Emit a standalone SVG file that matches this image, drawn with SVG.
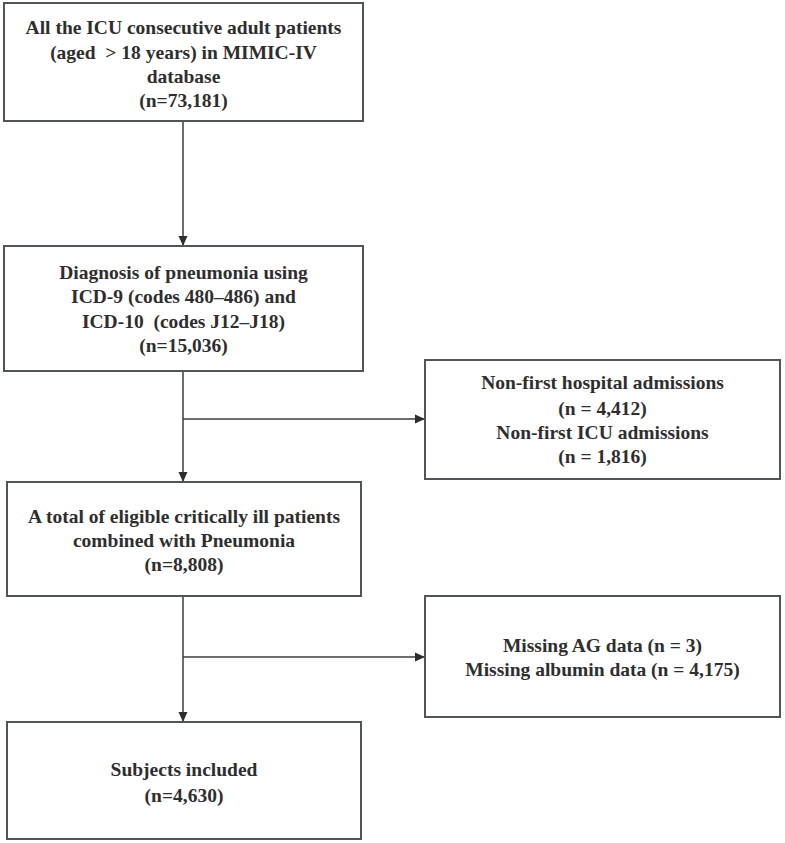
<svg xmlns="http://www.w3.org/2000/svg" width="785" height="843" viewBox="0 0 785 843">
  <style>
    .box { fill: #ffffff; stroke: #50555a; stroke-width: 2; }
    .t { font-family: "Liberation Serif", "Times New Roman", serif; font-weight: bold; font-size: 19.5px; fill: #2e2e2e; text-anchor: middle; white-space: pre; }
    .c { stroke: #3c3c3c; stroke-width: 1.5; fill: none; }
  </style>
  <defs>
    <marker id="ah" viewBox="0 0 10 10" refX="10" refY="5" markerWidth="10" markerHeight="10" markerUnits="userSpaceOnUse" orient="auto">
      <path d="M0,0.5 L10,5 L0,9.5 Z" fill="#2e2e2e"/>
    </marker>
  </defs>
  <rect width="785" height="843" fill="#ffffff"/>

  <g id="connectors">
    <line class="c" x1="183" y1="121" x2="183" y2="246" marker-end="url(#ah)"/>
    <line class="c" x1="183" y1="371" x2="183" y2="482" marker-end="url(#ah)"/>
    <line class="c" x1="183" y1="596" x2="183" y2="722" marker-end="url(#ah)"/>
    <line class="c" x1="183" y1="419" x2="425" y2="419" marker-end="url(#ah)"/>
    <line class="c" x1="183" y1="657" x2="425" y2="657" marker-end="url(#ah)"/>
  </g>

  <g id="node-all-icu">
    <rect class="box" x="4" y="3" width="359" height="118"/>
    <text class="t" x="183.5" y="34" xml:space="preserve">All the ICU consecutive adult patients</text>
    <text class="t" x="183.5" y="59" xml:space="preserve">(aged  &gt; 18 years) in MIMIC-IV</text>
    <text class="t" x="183.5" y="83">database</text>
    <text class="t" x="183.5" y="107">(n=73,181)</text>
  </g>

  <g id="node-pneumonia">
    <rect class="box" x="4" y="246" width="359" height="125"/>
    <text class="t" x="183.5" y="279">Diagnosis of pneumonia using</text>
    <text class="t" x="183.5" y="303">ICD-9 (codes 480–486) and</text>
    <text class="t" x="183.5" y="328" xml:space="preserve">ICD-10  (codes J12–J18)</text>
    <text class="t" x="183.5" y="352">(n=15,036)</text>
  </g>

  <g id="node-excl-admissions">
    <rect class="box" x="425" y="360" width="355" height="119"/>
    <text class="t" x="602.5" y="389">Non-first hospital admissions</text>
    <text class="t" x="602.5" y="415">(n = 4,412)</text>
    <text class="t" x="602.5" y="439">Non-first ICU admissions</text>
    <text class="t" x="602.5" y="463">(n = 1,816)</text>
  </g>

  <g id="node-eligible">
    <rect class="box" x="7" y="482" width="354" height="114"/>
    <text class="t" x="184" y="523">A total of eligible critically ill patients</text>
    <text class="t" x="184" y="547">combined with Pneumonia</text>
    <text class="t" x="184" y="571">(n=8,808)</text>
  </g>

  <g id="node-excl-missing">
    <rect class="box" x="425" y="596" width="355" height="121"/>
    <text class="t" x="602.5" y="652">Missing AG data (n = 3)</text>
    <text class="t" x="602.5" y="676">Missing albumin data (n = 4,175)</text>
  </g>

  <g id="node-included">
    <rect class="box" x="7" y="722" width="354" height="117"/>
    <text class="t" x="184" y="776">Subjects included</text>
    <text class="t" x="184" y="802">(n=4,630)</text>
  </g>
</svg>
